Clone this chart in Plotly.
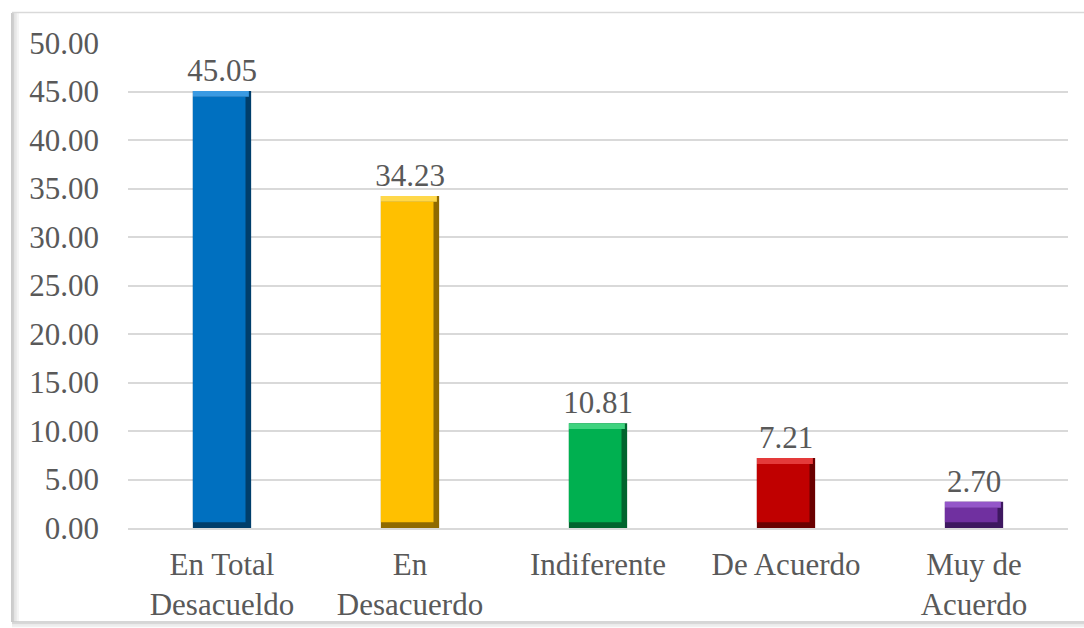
import plotly.graph_objects as go

# Survey responses (percent)
categories = ["En Total<br>Desacueldo", "En<br>Desacuerdo", "Indiferente", "De Acuerdo", "Muy de<br>Acuerdo"]
values = [45.05, 34.23, 10.81, 7.21, 2.70]

# Face, edge (shadow) and highlight colours for each bar
face_colors = ["#0070C0", "#FFC000", "#00B050", "#C00000", "#7030A0"]
edge_colors = ["#003E6B", "#8F6A00", "#00652E", "#6A0000", "#3E1860"]
top_colors = ["#3A9AE2", "#FFD84A", "#3FD37F", "#E43A3A", "#9456C9"]

W, H = 1084, 628
ML, MR, MT, MB = 128, 16, 43, 100
BAR_W = 0.31
BEVEL = 0.6  # bevel depth in axis units

FONT = "Liberation Serif, Times New Roman, serif"
TXT = "#595959"

fig = go.Figure()

# Dark base bar (forms right and bottom bevel edges) + value labels
fig.add_trace(go.Bar(
    x=categories, y=values, width=BAR_W,
    marker=dict(color=edge_colors, line=dict(width=0)),
    text=[f"{v:.2f}" for v in values], textposition="outside",
    constraintext="none",
    textfont=dict(family=FONT, size=31, color=TXT),
    cliponaxis=False, hoverinfo="skip",
))

# Face of the bar, inset from the right and bottom
fig.add_trace(go.Bar(
    x=categories, y=[v - 2 * BEVEL for v in values], base=[BEVEL] * len(values),
    width=BAR_W - 0.03, offset=-BAR_W / 2,
    marker=dict(color=face_colors, line=dict(width=0)),
    hoverinfo="skip",
))

# Highlight strip along the top
fig.add_trace(go.Bar(
    x=categories, y=[BEVEL] * len(values), base=[v - BEVEL for v in values],
    width=BAR_W - 0.012, offset=-BAR_W / 2,
    marker=dict(color=top_colors, line=dict(width=0)),
    hoverinfo="skip",
))

def px_x(p):
    return (p - ML) / (W - ML - MR)

def px_y(p):
    return (H - MB - p) / (H - MT - MB)

# Chart frame with soft shadow on left and bottom
frame = []
for i, c in enumerate(["#BFBFBF", "#D0D0D0", "#E0E0E0", "#EBEBEB", "#F3F3F3"]):
    frame.append(dict(type="line", xref="paper", yref="paper",
                      x0=px_x(12 + i * 1.5), x1=px_x(12 + i * 1.5),
                      y0=px_y(13), y1=px_y(622),
                      line=dict(color=c, width=1.6)))
for i, c in enumerate(["#C8C8C8", "#D8D8D8", "#E6E6E6", "#F0F0F0"]):
    frame.append(dict(type="line", xref="paper", yref="paper",
                      x0=px_x(12), x1=px_x(1084),
                      y0=px_y(622 + i * 1.5), y1=px_y(622 + i * 1.5),
                      line=dict(color=c, width=1.6)))
frame.append(dict(type="line", xref="paper", yref="paper",
                  x0=px_x(12), x1=px_x(1084), y0=px_y(12.5), y1=px_y(12.5),
                  line=dict(color="#D9D9D9", width=1.5)))

fig.update_layout(
    width=W, height=H,
    margin=dict(l=ML, r=MR, t=MT, b=MB),
    paper_bgcolor="white", plot_bgcolor="white",
    barmode="overlay", bargap=0.69, showlegend=False,
    font=dict(family=FONT, color=TXT),
    shapes=frame,
    xaxis=dict(
        showgrid=False, showline=True, linecolor="#D9D9D9", linewidth=1.5,
        ticks="", ticklabelstandoff=8, automargin=False,
        tickfont=dict(family=FONT, size=31, color=TXT),
    ),
    yaxis=dict(
        range=[0, 50], dtick=5, tickformat=".2f",
        showgrid=True, gridcolor="#D9D9D9", gridwidth=1.5,
        zeroline=False, showline=False, ticks="", ticklabelstandoff=28,
        automargin=False,
        tickfont=dict(family=FONT, size=31, color=TXT),
    ),
)

fig.write_html("out.html")
